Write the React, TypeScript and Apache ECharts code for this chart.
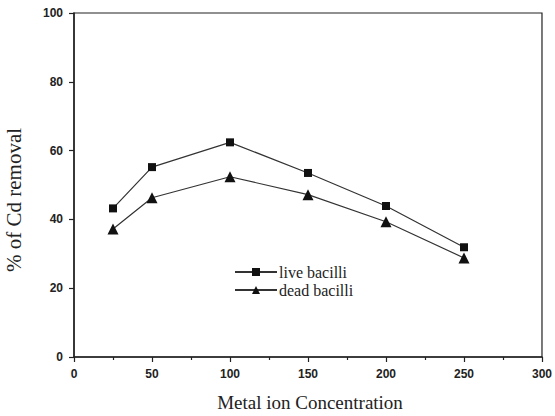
import React, { useEffect, useRef } from "react";
import * as echarts from "echarts";

const concentrations = [25, 50, 100, 150, 200, 250];
const liveBacilli = [43.2, 55.2, 62.4, 53.5, 43.9, 31.9];
const deadBacilli = [37.2, 46.3, 52.4, 47.2, 39.3, 28.8];
const seriesNames = ["live bacilli", "dead bacilli"];
const xTitle = "Metal ion Concentration";
const yTitle = "% of Cd removal";

export default function App() {
  const ref = useRef<HTMLDivElement>(null);
  useEffect(() => {
    if (!ref.current) return;
    const chart = echarts.init(ref.current, undefined, { renderer: "svg" });
    const tickLabel = {
      color: "#222",
      fontFamily: "Liberation Sans, Arial, sans-serif",
      fontSize: 12,
      fontWeight: "bold" as const,
    };
    const titleFont = "Liberation Serif, Times New Roman, serif";
    chart.setOption({
      animation: false,
      backgroundColor: "#fff",
      grid: {
        left: 74,
        right: 9,
        top: 13,
        bottom: 59,
        show: true,
        borderColor: "#222",
        borderWidth: 1.2,
        backgroundColor: "transparent",
      },
      legend: {
        orient: "vertical",
        left: 229,
        top: 259,
        itemGap: 2,
        itemWidth: 42,
        itemHeight: 10,
        data: seriesNames,
        textStyle: {
          color: "#222",
          fontFamily: titleFont,
          fontSize: 16,
          padding: [0, 0, 0, -3],
        },
      },
      graphic: [
        {
          type: "text",
          x: 310,
          y: 402,
          style: {
            text: xTitle,
            fill: "#222",
            font: `19px ${titleFont}`,
            align: "center",
            verticalAlign: "middle",
          },
        },
        {
          type: "text",
          x: 14,
          y: 200,
          rotation: Math.PI / 2,
          style: {
            text: yTitle,
            fill: "#222",
            font: `21px ${titleFont}`,
            align: "center",
            verticalAlign: "middle",
          },
        },
      ],
      xAxis: {
        type: "value",
        min: 0,
        max: 300,
        interval: 50,
        axisLine: { show: true, lineStyle: { color: "#222", width: 1.5 } },
        axisTick: { show: true, inside: false, length: 5, lineStyle: { color: "#222", width: 1.2 } },
        minorTick: { show: true, splitNumber: 2, length: 3, lineStyle: { color: "#222", width: 1.2 } },
        axisLabel: { ...tickLabel, margin: 11 },
        splitLine: { show: false },
      },
      yAxis: {
        type: "value",
        min: 0,
        max: 100,
        interval: 20,
        axisLine: { show: true, lineStyle: { color: "#222", width: 1.5 } },
        axisTick: { show: true, inside: false, length: 5, lineStyle: { color: "#222", width: 1.2 } },
        axisLabel: { ...tickLabel, margin: 11 },
        splitLine: { show: false },
      },
      series: [
        {
          name: seriesNames[0],
          type: "line",
          data: concentrations.map((c, i) => [c, liveBacilli[i]]),
          symbol: "rect",
          symbolSize: 8,
          lineStyle: { color: "#333", width: 1.2 },
          itemStyle: { color: "#111" },
        },
        {
          name: seriesNames[1],
          type: "line",
          data: concentrations.map((c, i) => [c, deadBacilli[i]]),
          symbol: "triangle",
          symbolSize: 11,
          lineStyle: { color: "#333", width: 1.2 },
          itemStyle: { color: "#111" },
        },
      ],
    });
    return () => chart.dispose();
  }, []);
  return <div ref={ref} style={{ width: 555, height: 416, position: "absolute", left: 0, top: 0 }} />;
}
